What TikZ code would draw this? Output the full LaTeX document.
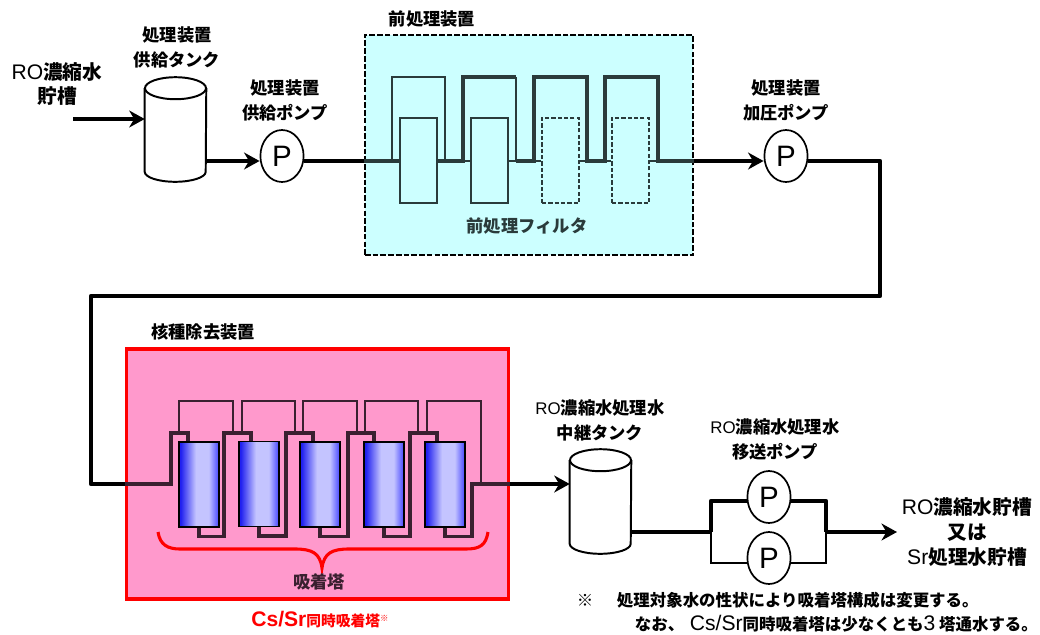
\documentclass[tikz,border=0pt]{standalone}
\usepackage{fontspec}
\setmainfont{Noto Sans CJK JP}
\newfontfamily\latinfont{Liberation Sans}
\newcommand{\ltn}[2]{{\latinfont\mdseries\fontsize{#1}{#1}\selectfont #2}}
\usetikzlibrary{calc,arrows.meta,shapes.geometric}
\definecolor{pre-fill}{HTML}{CCFFFF}
\definecolor{pre-pipe}{HTML}{2A3B3B}
\definecolor{ads-fill}{HTML}{FF99CC}
\definecolor{ads-pipe}{HTML}{3A2030}
\definecolor{col-dark}{HTML}{2020F0}
\definecolor{col-light}{HTML}{C4C4FF}
\definecolor{col-side}{HTML}{4444FF}
\pgfdeclarehorizontalshading{tower}{100bp}{color(0bp)=(col-dark); color(27bp)=(col-dark); color(46bp)=(col-light); color(62bp)=(col-light); color(75bp)=(col-side); color(100bp)=(col-side)}
\tikzset{
    pipe/.style={line width=3.2pt, line join=round},
    flow/.style={pipe, -{Stealth[length=11pt,width=12pt,inset=3.5pt]}},
    prethick/.style={pre-pipe, line width=2.6pt},
    prethin/.style={pre-pipe, line width=1pt},
    adsthick/.style={ads-pipe, line width=2.4pt},
    adsthin/.style={ads-pipe, line width=1.3pt},
    tank/.style={rectangle, minimum width=1.525cm, minimum height=2.6cm, inner sep=0pt},
    tankline/.style={line width=1.4pt, fill=white},
    pump/.style={ellipse, draw, fill=white, line width=1.2pt, minimum width=1.08cm, minimum height=1.3cm, inner sep=0pt, font=\latinfont\fontsize{21}{21}\selectfont},
    filter/.style={rectangle, draw=pre-pipe, line width=1pt, fill=pre-fill, minimum width=0.925cm, minimum height=2.125cm, inner sep=0pt},
    spare/.style={filter, dash pattern=on 3pt off 1.5pt},
    column/.style={rectangle, draw=black, line width=0.9pt, shading=tower, minimum width=1cm, minimum height=2.125cm, inner sep=0pt},
    bigtext/.style={align=center, font=\fontsize{14}{17.5}\bfseries},
    midtext/.style={align=center, font=\fontsize{12.3}{17.7}\bfseries},
    notetext/.style={anchor=west, font=\fontsize{11.7}{14}\bfseries},
}
\begin{document}
\begin{tikzpicture}[x=0.025cm, y=-0.025cm]
    \useasboundingbox (0,0) rectangle (1040,634);

    % boxes
    \node[rectangle, draw, dash pattern=on 4pt off 1.5pt, line width=1.5pt, fill=pre-fill, minimum width=8.2cm, minimum height=5.5cm] (prebox) at (529,145) {};
    \node[rectangle, draw=red, line width=2.2pt, fill=ads-fill, minimum width=9.525cm, minimum height=6.25cm] (adsbox) at (317.5,474) {};
    \coordinate (flow1) at (prebox.west |- 0,161);
    \coordinate (flow2) at (prebox.east |- 0,161);
    \coordinate (ads1) at (adsbox.west |- 0,484);
    \coordinate (ads2) at (adsbox.east |- 0,484);

    % upper line
    \coordinate (feed) at (73,119);
    \node[tank] (tank1) at (175.5,129.5) {};
    \draw[tankline] ($(tank1.north west)+(0,11)$) -- ($(tank1.south west)+(0,-10)$) arc[start angle=180, end angle=0, x radius=30.5, y radius=10] -- ($(tank1.north east)+(0,11)$);
    \draw[tankline] ($(tank1.north)+(0,11)$) ellipse [x radius=30.5, y radius=11];
    \node[pump] (pump1) at (282,156) {P};
    \node[pump] (pump2) at (786,156) {P};
    \draw[flow] (feed) -- (feed -| tank1.west);
    \draw[flow] (tank1.east |- flow1) -- (pump1.west |- flow1);
    \draw[pipe] (pump1.east |- flow1) -- (flow1);
    \draw[flow] (flow2) -- (pump2.west |- flow2);

    % pre-filters
    \node[filter] (flt1) at (418.5,160.5) {};
    \node[filter] (flt2) at (489.5,160.5) {};
    \node[spare] (flt3) at (560.5,160.5) {};
    \node[spare] (flt4) at (630.5,160.5) {};
    \draw[prethick] (flow1) -- (flt1.west |- flow1);
    \draw[prethick] (flt1.east |- flow1) -- (463,161) |- (516,77);
    \draw[prethin] (392,161) |- (445,77) -- (445,161);
    \draw[prethin] (463,161) -- (flt2.west |- flow1);
    \draw[prethin] (flt2.east |- flow1) -- (516,161) -- (516,77);
    \draw[prethick] (516,161) -- (534,161) |- (587,77) -- (587,161) -- (605,161) |- (658,77) -- (658,161) -- (flow2);
    \draw[prethin] (534,161) -- (flt3.west |- flow1);
    \draw[prethin] (flt3.east |- flow1) -- (587,161);
    \draw[prethin] (605,161) -- (flt4.west |- flow1);
    \draw[prethin] (flt4.east |- flow1) -- (658,161);

    % long run to the removal unit
    \draw[pipe] (pump2.east |- flow2) -- (880,161) -- (880,296) -- (91,296) -- (91,484) -- (ads1);

    % adsorption towers
    \node[column] (col1) at (199,484.5) {};
    \node[column] (col2) at (259,484) {};
    \node[column] (col3) at (320,484.5) {};
    \node[column] (col4) at (384,484.5) {};
    \node[column] (col5) at (445,484.5) {};
    \coordinate (ris1) at (224,433);
    \coordinate (ris2) at (286,433);
    \coordinate (ris3) at (348,433);
    \coordinate (ris4) at (410,433);
    \coordinate (ris5) at (472,484);
    \coordinate (ris0) at (171,433);
    \coordinate (byp1) at (233,401);
    \coordinate (byp2) at (295,401);
    \coordinate (byp3) at (357,401);
    \coordinate (byp4) at (418,401);
    \coordinate (byp5) at (481,401);
    \draw[adsthin] (179,433) |- (byp1) -- (ris1 -| byp1);
    \draw[adsthin] (242,433) |- (byp2) -- (ris2 -| byp2);
    \draw[adsthin] (303,433) |- (byp3) -- (ris3 -| byp3);
    \draw[adsthin] (365,433) |- (byp4) -- (ris4 -| byp4);
    \draw[adsthin] (427,433) |- (byp5) -- (ads2 -| byp5);
    \draw[adsthick] (ads1) -| (ris0) -| ($(col1.north)+(-11,0)$);
    \draw[adsthick] (col1.south) -- ++(0,9) -| (ris1) -| ($(col2.north)+(-8,0)$);
    \draw[adsthick] (col2.south) -- ++(0,9) -| (ris2) -| ($(col3.north)+(-7,0)$);
    \draw[adsthick] (col3.south) -- ++(0,9) -| (ris3) -| ($(col4.north)+(-10,0)$);
    \draw[adsthick] (col4.south) -- ++(0,9) -| (ris4) -| ($(col5.north)+(-8,0)$);
    \draw[adsthick] (col5.south) -- ++(0,9) -| (ris5) -- (ads2);
    \draw[red, line width=2.2pt] (158,532) .. controls (160,545) and (168,549) .. (180,549) -- (295,549) .. controls (312,549) and (320,553) .. (322,568) .. controls (324,553) and (332,549) .. (349,549) -- (466,549) .. controls (480,549) and (486,545) .. (488,532);

    % lower line
    \node[tank] (tank2) at (600.5,501.5) {};
    \draw[tankline] ($(tank2.north west)+(0,11)$) -- ($(tank2.south west)+(0,-10)$) arc[start angle=180, end angle=0, x radius=30.5, y radius=10] -- ($(tank2.north east)+(0,11)$);
    \draw[tankline] ($(tank2.north)+(0,11)$) ellipse [x radius=30.5, y radius=11];
    \node[pump] (pump3) at (769,497) {P};
    \node[pump] (pump4) at (769,558) {P};
    \coordinate (split) at (711,532);
    \coordinate (merge) at (826,532);
    \coordinate (store) at (897,532);
    \draw[flow] (ads2) -- (ads2 -| tank2.west);
    \draw[pipe] (split -| tank2.east) -- (split);
    \draw[pipe] (split) -- (split |- 0,501) -- (pump3.west |- 0,501);
    \draw[pipe] (pump3.east |- 0,501) -- (merge |- 0,501) -- (merge);
    \draw[line width=1.8pt] (split) |- (pump4.west |- 0,563);
    \draw[line width=1.8pt] (pump4.east |- 0,563) -| (merge);
    \draw[flow] (merge) -- (store);

    % labels
    \node[bigtext] (lfeed) at (57,84) {\ltn{15}{RO}濃縮水\\貯槽};
    \node[midtext] (ltank1) at (177,47) {処理装置\\供給タンク};
    \node[midtext] (lpump1) at (285,100) {処理装置\\供給ポンプ};
    \node[midtext] (lpre) at (432,19) {前処理装置};
    \node[midtext, pre-pipe] (lflt) at (527,226) {前処理フィルタ};
    \node[midtext] (lpump2) at (786,100) {処理装置\\加圧ポンプ};
    \node[midtext] (lads) at (203,332) {核種除去装置};
    \node[midtext, ads-pipe] (lcol) at (319,582) {吸着塔};
    \node[red, font=\fontsize{10.5}{14}\bfseries] (lcs) at (320,620) {{\latinfont\fontsize{15}{15}\bfseries Cs/Sr}同時吸着塔\raisebox{4pt}{\fontsize{6}{6}\selectfont ※}};
    \node[midtext] (ltank2) at (600,420) {\ltn{12}{RO}濃縮水処理水\\中継タンク};
    \node[midtext] (lpump3) at (775,439.5) {\ltn{12}{RO}濃縮水処理水\\移送ポンプ};
    \node[bigtext] (lstore) at (967,532) {\ltn{15}{RO}濃縮水貯槽\\又は\\\ltn{15}{Sr}処理水貯槽};
    \node[notetext] (lmark) at (572,600) {※};
    \node[notetext] (lnote1) at (612,600) {処理対象水の性状により吸着塔構成は変更する。};
    \node[notetext] (lnote2) at (630,624) {なお、\hspace{4pt}\ltn{15}{Cs/Sr}同時吸着塔は少なくとも\ltn{15}{3} 塔通水する。};
\end{tikzpicture}
\end{document}
